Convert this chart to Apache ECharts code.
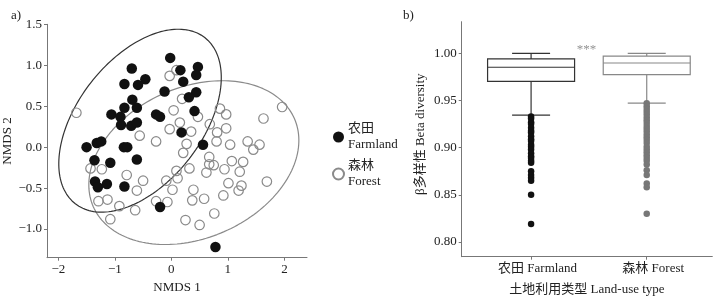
<!DOCTYPE html>
<html>
<head>
<meta charset="utf-8">
<script src="https://cdn.jsdelivr.net/npm/echarts@6/dist/echarts.min.js"></script>
<style>
html,body{margin:0;padding:0;background:#fff;}
#chart{width:716px;height:302px;}
</style>
</head>
<body>
<div id="chart"></div>
<script>
// ---- Panel a: NMDS ordination ----
const farmlandNMDS1 = [-0.02,-0.70,0.16,0.47,0.44,0.21,-0.46,-0.83,-0.59,-0.12,0.44,0.31,-0.69,-0.83,-0.61,-1.06,-0.90,-0.27,-0.20,0.41,-0.89,-0.71,-0.61,0.18,-1.50,-1.32,-1.24,-0.84,-0.78,0.56,-1.36,-1.08,-0.61,-1.35,-1.30,-1.14,-0.83,-0.20,0.78];
const farmlandNMDS2 = [1.09,0.96,0.94,0.98,0.88,0.80,0.83,0.77,0.76,0.68,0.67,0.61,0.58,0.48,0.48,0.40,0.37,0.40,0.37,0.44,0.27,0.26,0.30,0.18,0.00,0.05,0.07,0.00,0.00,0.03,-0.16,-0.19,-0.15,-0.42,-0.49,-0.45,-0.48,-0.73,-1.22];
const forestNMDS1 = [-1.68,-0.03,0.09,0.19,0.04,0.15,-0.03,0.47,0.86,0.97,0.68,0.97,0.81,0.35,-0.56,-0.27,0.27,0.80,1.04,1.35,1.56,1.63,1.96,1.45,0.21,0.67,0.67,0.75,1.07,1.27,0.94,0.62,0.32,0.09,0.11,-0.09,0.02,-0.07,-0.27,0.39,0.37,0.58,0.92,1.21,1.01,1.24,1.19,1.69,0.76,0.25,0.50,-0.50,-0.61,-0.79,-1.43,-1.23,-1.29,-1.13,-0.92,-0.64,-1.08];
const forestNMDS2 = [0.42,0.87,0.94,0.59,0.45,0.30,0.22,0.37,0.47,0.40,0.28,0.23,0.18,0.19,0.14,0.07,0.04,0.07,0.03,0.07,0.03,0.35,0.49,-0.03,-0.07,-0.12,-0.21,-0.22,-0.17,-0.18,-0.27,-0.31,-0.26,-0.29,-0.38,-0.41,-0.52,-0.67,-0.66,-0.52,-0.65,-0.63,-0.59,-0.30,-0.44,-0.47,-0.53,-0.42,-0.81,-0.89,-0.95,-0.41,-0.53,-0.34,-0.26,-0.27,-0.66,-0.64,-0.72,-0.77,-0.88];
// confidence ellipses: centre and two conjugate semi-axis vectors (data units)
const farmlandEllipseCenter = [-0.554, 0.323];
const farmlandEllipseAxisA = [1.145, 1.015];
const farmlandEllipseAxisB = [0.869, -0.466];
const forestEllipseCenter = [0.398, -0.189];
const forestEllipseAxisA = [1.779, 0.538];
const forestEllipseAxisB = [0.536, -0.843];
const nmdsXTicks = [-2,-1,0,1,2];
const nmdsYTicks = [-1,-0.5,0,0.5,1,1.5];

// ---- Panel b: beta diversity boxplots ----
const landUseTypes = ['农田 Farmland', '森林 Forest'];
// [min whisker, Q1, median, Q3, max whisker]
const farmlandBox = [0.9344, 0.9703, 0.9852, 0.9940, 1.000];
const forestBox = [0.9471, 0.9773, 0.9897, 0.9971, 1.000];
const farmlandOutliers = [0.933,0.931,0.927,0.925,0.921,0.918,0.916,0.912,0.909,0.907,0.903,0.901,0.898,0.894,0.891,0.889,0.886,0.884,0.875,0.871,0.868,0.865,0.850,0.819];
const forestOutliers = [0.947,0.944,0.941,0.938,0.935,0.932,0.929,0.926,0.923,0.920,0.917,0.914,0.911,0.908,0.905,0.901,0.898,0.895,0.892,0.889,0.886,0.882,0.876,0.871,0.862,0.858,0.830];
const betaYTicks = [0.80,0.85,0.90,0.95,1.00];
const significanceLabel = '***';

const FONT = "'Liberation Serif','Noto Sans CJK SC',serif";
const AXIS_COLOR = '#777';
const TEXT_COLOR = '#222';

function ellipsePoints(c, a, b) {
  const pts = [];
  for (let k = 0; k <= 180; k++) {
    const t = k / 180 * 2 * Math.PI;
    pts.push([c[0] + a[0]*Math.cos(t) + b[0]*Math.sin(t), c[1] + a[1]*Math.cos(t) + b[1]*Math.sin(t)]);
  }
  return pts;
}
const minus = s => String(s).replace('-', '\u2212');

const chart = echarts.init(document.getElementById('chart'), null, {renderer: 'canvas'});

const boxColors = ['#333', '#888'];
const option = {
  animation: false,
  backgroundColor: '#fff',
  textStyle: {fontFamily: FONT},
  grid: [
    {left: 47, top: 24.3, width: 260, height: 233.4},
    {left: 461.7, top: 21.7, width: 250.6, height: 235}
  ],
  legend: {
    data: ['Farmland', 'Forest'],
    orient: 'vertical', left: 332, top: 121, padding: 0,
    itemWidth: 11, itemHeight: 11, itemGap: 5,
    formatter: n => n === 'Farmland' ? '农田\nFarmland' : '森林\nForest',
    textStyle: {fontSize: 13, lineHeight: 16, color: TEXT_COLOR, fontFamily: FONT, padding: [0,0,0,-1]}
  },
  graphic: [
    {type: 'text', left: 11, top: 9, style: {text: 'a)', font: "13px " + FONT, fill: TEXT_COLOR}},
    {type: 'text', left: 403, top: 9, style: {text: 'b)', font: "13px " + FONT, fill: TEXT_COLOR}}
  ],
  xAxis: [
    {
      type: 'value', gridIndex: 0, min: -2.2, max: 2.4,
      splitLine: {show: false},
      axisLine: {onZero: false, lineStyle: {color: AXIS_COLOR}},
      axisTick: {length: 3, customValues: nmdsXTicks, lineStyle: {color: AXIS_COLOR}},
      axisLabel: {customValues: nmdsXTicks, formatter: v => minus(v), fontSize: 13, color: TEXT_COLOR, margin: 5, fontFamily: FONT},
      name: 'NMDS 1', nameLocation: 'middle', nameGap: 20,
      nameTextStyle: {fontSize: 13, color: TEXT_COLOR, fontFamily: FONT}
    },
    {
      type: 'value', gridIndex: 1, min: -0.6, max: 1.567,
      splitLine: {show: false},
      axisLine: {onZero: false, lineStyle: {color: AXIS_COLOR}},
      axisTick: {length: 3, customValues: [0, 1], lineStyle: {color: AXIS_COLOR}},
      axisLabel: {customValues: [0, 1], formatter: v => landUseTypes[Math.round(v)], fontSize: 13, color: TEXT_COLOR, margin: 5, padding: [0,0,0,13], fontFamily: FONT},
      name: '土地利用类型 Land-use type', nameLocation: 'middle', nameGap: 26,
      nameTextStyle: {fontSize: 13, color: TEXT_COLOR, fontFamily: FONT}
    }
  ],
  yAxis: [
    {
      type: 'value', gridIndex: 0, min: -1.35, max: 1.5,
      splitLine: {show: false},
      axisLine: {onZero: false, lineStyle: {color: AXIS_COLOR}},
      axisTick: {length: 3, customValues: nmdsYTicks, lineStyle: {color: AXIS_COLOR}},
      axisLabel: {customValues: nmdsYTicks, formatter: v => minus(v.toFixed(1)), fontSize: 13, color: TEXT_COLOR, margin: 5, fontFamily: FONT},
      name: 'NMDS 2', nameLocation: 'middle', nameGap: 27,
      nameTextStyle: {fontSize: 13, color: TEXT_COLOR, fontFamily: FONT}
    },
    {
      type: 'value', gridIndex: 1, min: 0.7844, max: 1.0335,
      splitLine: {show: false},
      axisLine: {onZero: false, lineStyle: {color: AXIS_COLOR}},
      axisTick: {length: 3, customValues: betaYTicks, lineStyle: {color: AXIS_COLOR}},
      axisLabel: {customValues: betaYTicks, formatter: v => v.toFixed(2), fontSize: 13, color: TEXT_COLOR, margin: 5, fontFamily: FONT},
      name: 'β多样性 Beta diversity', nameLocation: 'middle', nameGap: 35,
      nameTextStyle: {fontSize: 13, color: TEXT_COLOR, fontFamily: FONT, padding: [0, 0, 0, 10]}
    }
  ],
  series: [
    {
      type: 'line', name: 'ellipseForest', xAxisIndex: 0, yAxisIndex: 0,
      data: ellipsePoints(forestEllipseCenter, forestEllipseAxisA, forestEllipseAxisB),
      showSymbol: false, symbol: 'none', silent: true, z: 1,
      lineStyle: {color: '#8a8a8a', width: 1.2}
    },
    {
      type: 'line', name: 'ellipseFarmland', xAxisIndex: 0, yAxisIndex: 0,
      data: ellipsePoints(farmlandEllipseCenter, farmlandEllipseAxisA, farmlandEllipseAxisB),
      showSymbol: false, symbol: 'none', silent: true, z: 1,
      lineStyle: {color: '#333', width: 1.2}
    },
    {
      type: 'scatter', name: 'Forest', xAxisIndex: 0, yAxisIndex: 0, z: 2,
      data: forestNMDS1.map((x, i) => [x, forestNMDS2[i]]),
      symbol: 'circle', symbolSize: 9.5,
      itemStyle: {color: 'rgba(255,255,255,0)', borderColor: '#8a8a8a', borderWidth: 1.2, opacity: 1}
    },
    {
      type: 'scatter', name: 'Farmland', xAxisIndex: 0, yAxisIndex: 0, z: 3,
      data: farmlandNMDS1.map((x, i) => [x, farmlandNMDS2[i]]),
      symbol: 'circle', symbolSize: 10.5,
      itemStyle: {color: '#111', opacity: 1}
    },
    {
      type: 'custom', name: 'boxes', xAxisIndex: 1, yAxisIndex: 1, silent: true, z: 2,
      data: [[0].concat(farmlandBox), [1].concat(forestBox)],
      renderItem: function (params, api) {
        const i = api.value(0);
        const cx = api.coord([i, 1])[0];
        const y = k => api.coord([i, api.value(k)])[1];
        const yMin = y(1), yQ1 = y(2), yMed = y(3), yQ3 = y(4), yMax = y(5);
        const hw = 43.5, cap = 19;
        const st = {stroke: boxColors[params.dataIndex], lineWidth: 1.2, fill: null};
        return {
          type: 'group',
          children: [
            {type: 'line', shape: {x1: cx, y1: yQ3, x2: cx, y2: yMax}, style: st},
            {type: 'line', shape: {x1: cx, y1: yQ1, x2: cx, y2: yMin}, style: st},
            {type: 'line', shape: {x1: cx - cap, y1: yMax, x2: cx + cap, y2: yMax}, style: st},
            {type: 'line', shape: {x1: cx - cap, y1: yMin, x2: cx + cap, y2: yMin}, style: st},
            {type: 'rect', shape: {x: cx - hw, y: yQ3, width: 2 * hw, height: yQ1 - yQ3}, style: {stroke: boxColors[params.dataIndex], lineWidth: 1.2, fill: '#fff'}},
            {type: 'line', shape: {x1: cx - hw, y1: yMed, x2: cx + hw, y2: yMed}, style: st}
          ]
        };
      }
    },
    {
      type: 'scatter', name: 'farmOut', xAxisIndex: 1, yAxisIndex: 1, z: 3,
      data: farmlandOutliers.map(v => [0, v]), symbolSize: 6.5,
      itemStyle: {color: '#111', opacity: 1}
    },
    {
      type: 'scatter', name: 'forestOut', xAxisIndex: 1, yAxisIndex: 1, z: 3,
      data: forestOutliers.map(v => [1, v]), symbolSize: 6.5,
      itemStyle: {color: '#777', opacity: 1}
    },
    {
      type: 'scatter', name: 'signif', xAxisIndex: 1, yAxisIndex: 1, z: 4, silent: true,
      data: [[0.48, 1.004]], symbol: 'circle', symbolSize: 1,
      itemStyle: {color: 'rgba(0,0,0,0)'},
      label: {show: true, position: 'inside', formatter: significanceLabel, fontSize: 13, color: '#777', fontFamily: FONT}
    }
  ]
};
chart.setOption(option);
</script>
</body>
</html>
